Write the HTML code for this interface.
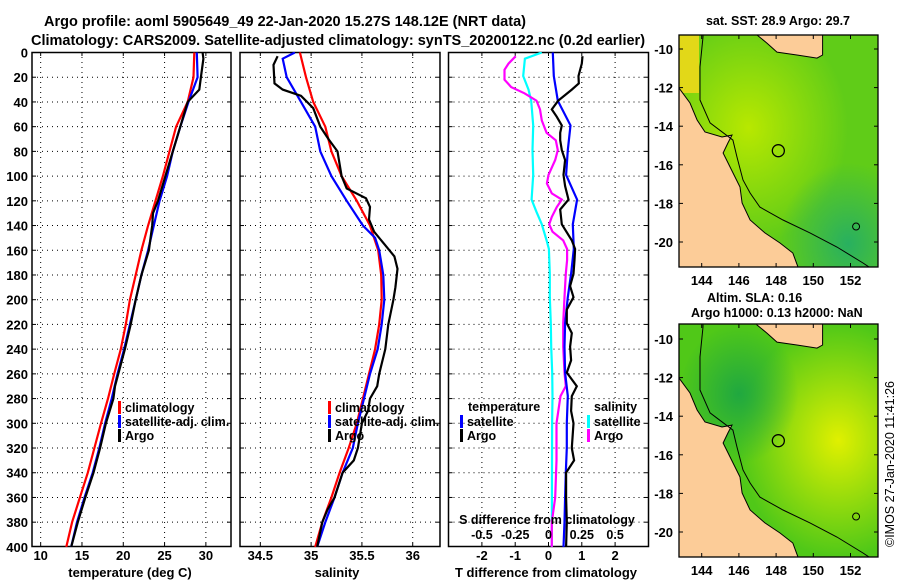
<!DOCTYPE html>
<html><head><meta charset="utf-8"><style>
html,body{margin:0;padding:0;background:#fff;}
svg{display:block;font-family:"Liberation Sans",sans-serif;font-weight:bold;}
</style></head><body>
<svg id="chart" width="900" height="580" viewBox="0 0 900 580" xmlns="http://www.w3.org/2000/svg">
<defs>
<clipPath id="cp1"><rect x="32" y="52" width="199" height="495"/></clipPath>
<clipPath id="cp2"><rect x="240" y="52" width="200" height="495"/></clipPath>
<clipPath id="cp3"><rect x="448.5" y="52" width="200" height="495"/></clipPath>
<clipPath id="cm1"><rect x="679" y="35" width="199" height="232"/></clipPath>
<clipPath id="cm2"><rect x="679" y="324" width="199" height="233"/></clipPath>
<radialGradient id="sstY" cx="0.35" cy="0.4" r="0.5"><stop offset="0" stop-color="#b8e800"/><stop offset="1" stop-color="#b8e800" stop-opacity="0"/></radialGradient>
<radialGradient id="sstT" cx="0.85" cy="0.9" r="0.35"><stop offset="0" stop-color="#28b060"/><stop offset="1" stop-color="#28b060" stop-opacity="0"/></radialGradient>
<radialGradient id="slaY" cx="0.8" cy="0.5" r="0.5"><stop offset="0" stop-color="#e0f000"/><stop offset="1" stop-color="#e0f000" stop-opacity="0"/></radialGradient>
<radialGradient id="slaG" cx="0.3" cy="0.3" r="0.3"><stop offset="0" stop-color="#20a840"/><stop offset="1" stop-color="#20a840" stop-opacity="0"/></radialGradient>
</defs>
<g id="root"></g>
</svg>
<script>
// ---------- data ----------
const tDepth = [0,20,40,60,80,100,120,140,160,180,200,220,240,260,280,300,320,340,360,380,400];
const tClim = [28.6,28.5,27.8,26.4,25.6,24.8,23.9,23.0,22.2,21.5,20.8,20.3,19.7,18.9,18.15,17.3,16.5,15.7,14.75,13.8,13.1];
const tSat = [28.9,29.0,27.9,26.9,26.0,25.3,24.4,23.7,23.0,22.2,21.5,20.8,20.1,19.3,18.6,17.8,17.1,16.3,15.3,14.4,13.7];
const tArgoDepth = [0,5,20,30,40,60,80,100,120,130,140,160,180,200,220,240,260,270,280,300,320,340,360,380,400];
const tArgo = [29.6,29.7,29.4,29.2,27.8,26.9,26.0,25.1,24.2,23.6,23.5,23.1,22.2,21.5,20.9,20.2,19.4,19.0,18.8,17.9,17.2,16.4,15.4,14.5,13.7];

const sClimDepth = [0,20,40,60,80,100,120,140,160,180,200,220,240,260,280,300,320,340,360,380,400];
const sClim = [34.89,34.95,35.02,35.14,35.2,35.3,35.45,35.58,35.66,35.69,35.695,35.67,35.63,35.57,35.51,35.45,35.37,35.28,35.2,35.11,35.04];
const sSatDepth = [0,5,20,40,60,80,100,120,140,150,160,180,200,220,240,260,280,300,320,340,360,380,400];
const sSat = [34.84,34.72,34.76,34.9,35.04,35.09,35.2,35.35,35.51,35.63,35.67,35.71,35.72,35.695,35.655,35.58,35.52,35.46,35.41,35.31,35.23,35.14,35.06];
const sArgoDepth = [3,10,25,30,35,45,60,70,80,100,110,118,125,135,145,155,165,175,190,200,220,240,260,270,280,290,300,320,330,340,360,370,380,400];
const sArgo = [34.67,34.63,34.64,34.72,34.9,35.02,35.09,35.17,35.26,35.3,35.35,35.54,35.58,35.57,35.62,35.72,35.82,35.85,35.83,35.81,35.76,35.73,35.67,35.65,35.58,35.56,35.5,35.46,35.42,35.31,35.23,35.16,35.11,35.06];

const dTSatDepth = [0,19,39,59,79,99,119,139,159,179,198,219,238,259,278,300,320,340,360,380,400];
const dTSat = [0.13,0.16,0.28,0.66,0.58,0.53,0.86,0.73,0.76,0.68,0.58,0.5,0.48,0.5,0.58,0.55,0.55,0.52,0.5,0.48,0.45];
const dTArgoDepth = [3,9,19,25,30,39,46,52,59,65,71,79,87,99,108,119,127,139,152,159,168,179,189,198,208,219,227,238,249,259,270,278,290,300,320,330,340,360,380,400];
const dTArgo = [1.02,1.0,0.9,0.91,0.7,0.29,0.1,0.25,0.4,0.35,0.35,0.4,0.5,0.45,0.5,0.6,0.35,0.4,0.7,0.8,0.78,0.75,0.65,0.75,0.55,0.55,0.7,0.65,0.68,0.55,0.85,0.7,0.68,0.75,0.7,0.77,0.53,0.53,0.55,0.53];
const dSSatDepth = [0,5,19,30,39,59,79,99,119,129,139,152,159,179,198,219,238,259,278,300,400];
const dSSat = [-0.05,-0.177,-0.19,-0.15,-0.13,-0.115,-0.12,-0.115,-0.127,-0.09,-0.05,-0.014,0.003,0.01,0.01,0.017,0.02,0.028,0.03,0.027,0.025];
const dSArgoDepth = [3,9,14,22,28,33,39,46,55,65,71,79,87,99,106,114,119,125,133,139,145,152,159,168,179,198,219,238,259,270,278,300,330,360,380,400];
const dSArgo = [-0.246,-0.30,-0.33,-0.33,-0.28,-0.18,-0.09,-0.064,-0.05,-0.014,0.055,0.07,0.05,0,-0.012,0.025,0.1,0.062,0.025,0.005,0.03,0.11,0.14,0.14,0.13,0.12,0.11,0.11,0.12,0.13,0.09,0.06,0.06,0.05,0.025,0.025];

const depthTicks = [0,20,40,60,80,100,120,140,160,180,200,220,240,260,280,300,320,340,360,380,400];
const tempTicks = [10,15,20,25,30];
const salTicks = [34.5,35,35.5,36];
const dTTicks = [-2,-1,0,1,2];
const dSTicks = [-0.5,-0.25,0,0.25,0.5];
const dSTickLabels = ["-0.5","-0.25","0","0.25","0.5"];
const lonTicks = [144,146,148,150,152];
const latTicks = [-10,-12,-14,-16,-18,-20];

// ---------- helpers ----------
const NS = "http://www.w3.org/2000/svg";
const root = document.getElementById('root');
function mk(tag, attrs, parent){const e=document.createElementNS(NS,tag);for(const k in attrs)e.setAttribute(k,attrs[k]);(parent||root).appendChild(e);return e;}
function txt(x,y,s,size,anchor,parent){const e=mk('text',{x:x,y:y,'font-size':size,'text-anchor':anchor||'middle',fill:'#000'},parent);e.textContent=s;return e;}
const yD = d => 52.5 + d*1.236;
const xT = v => 32 + (v-8.95)*8.26;
const xS = v => 240 + (v-34.3)*101.6;
const xDT = v => 548.5 + v*33.3;
const xDS = v => 548.5 + v*133.2;

function panel(x0,w,ticks,xf,name){
  const g=mk('g',{});
  
  
  depthTicks.forEach(d=>{ if(d>0&&d<400){mk('line',{x1:x0,x2:x0+w,y1:yD(d),y2:yD(d),stroke:'#000','stroke-width':1,'stroke-dasharray':'1,4'},g);
    mk('line',{x1:x0,x2:x0+4,y1:yD(d),y2:yD(d),stroke:'#000'},g);mk('line',{x1:x0+w-4,x2:x0+w,y1:yD(d),y2:yD(d),stroke:'#000'},g);} });
  ticks.forEach(t=>{const x=xf(t);mk('line',{x1:x,x2:x,y1:52,y2:547,stroke:'#000','stroke-width':1,'stroke-dasharray':'1,4'},g);
    mk('line',{x1:x,x2:x,y1:52,y2:56,stroke:'#000'},g);mk('line',{x1:x,x2:x,y1:543,y2:547,stroke:'#000'},g);});
  mk('rect',{x:x0,y:52.5,width:w,height:494,fill:'none',stroke:'#000','stroke-width':1.5},g);
  return g;
}
function series(xs,ds,xf,color,clip,name){
  const pts=xs.map((v,i)=>xf(v).toFixed(1)+','+yD(ds[i]).toFixed(1)).join(' ');
  const p=mk('polyline',{points:pts,fill:'none',stroke:color,'stroke-width':2.2,'clip-path':'url(#'+clip+')'});
  
  
}
function legendItem(x,y,color,label,parent){
  mk('rect',{x:x,y:y-11,width:3,height:13,fill:color},parent);
  txt(x+7,y,label,12.5,'start',parent);
}

// titles
const t1=txt(285,26,'Argo profile: aoml 5905649_49 22-Jan-2020 15.27S 148.12E (NRT data)',14.5);


const t2=txt(338,45,'Climatology: CARS2009. Satellite-adjusted climatology: synTS_20200122.nc (0.2d earlier)',14.5);



// panel 1 temperature
panel(32,199,tempTicks,xT,'temperature-panel');
depthTicks.forEach(d=>{const e=txt(28,yD(d)+5,String(d),13,'end');});
tempTicks.forEach(t=>{const e=txt(xT(t),560,String(t),13);});
const xl1=txt(130,577,'temperature (deg C)',13);
series(tClim,tDepth,xT,'#ff0000','cp1','temp-climatology-line');
series(tSat,tDepth,xT,'#0000ff','cp1','temp-satellite-line');
series(tArgo,tArgoDepth,xT,'#000000','cp1','temp-argo-line');
const lg1=mk('g',{});
legendItem(118,412,'#ff0000','climatology',lg1);legendItem(118,426,'#0000ff','satellite-adj. clim.',lg1);legendItem(118,440,'#000000','Argo',lg1);

// panel 2 salinity
panel(240,200,salTicks,xS,'salinity-panel');
salTicks.forEach(t=>{const e=txt(xS(t),560,String(t),13);});
const xl2=txt(337,577,'salinity',13);
series(sClim,sClimDepth,xS,'#ff0000','cp2','sal-climatology-line');
series(sSat,sSatDepth,xS,'#0000ff','cp2','sal-satellite-line');
series(sArgo,sArgoDepth,xS,'#000000','cp2','sal-argo-line');
const lg2=mk('g',{});
legendItem(328,412,'#ff0000','climatology',lg2);legendItem(328,426,'#0000ff','satellite-adj. clim.',lg2);legendItem(328,440,'#000000','Argo',lg2);

// panel 3 differences
panel(448.5,200,dTTicks,xDT,'difference-panel');
dTTicks.forEach(t=>{const e=txt(xDT(t),560,String(t),13);});
const xl3=txt(546,577,'T difference from climatology',13);
series(dSSat,dSSatDepth,xDS,'#00ffff','cp3','ds-satellite-line');
series(dSArgo,dSArgoDepth,xDS,'#ff00ff','cp3','ds-argo-line');
series(dTSat,dTSatDepth,xDT,'#0000ff','cp3','dt-satellite-line');
series(dTArgo,dTArgoDepth,xDT,'#000000','cp3','dt-argo-line');
dSTicks.forEach((t,i)=>{const e=txt(xDS(t),539,dSTickLabels[i],12.5);});
const sl=txt(547,524,'S difference from climatology',12.5);
const lg3=mk('g',{});
txt(468,411,'temperature',12.5,'start',lg3);
legendItem(460,426,'#0000ff','satellite',lg3);legendItem(460,440,'#000000','Argo',lg3);
txt(594,411,'salinity',12.5,'start',lg3);
legendItem(587,426,'#00ffff','satellite',lg3);legendItem(587,440,'#ff00ff','Argo',lg3);

// ---------- maps ----------
const coast = [[142,-12.02],[142.78,-12.02],[143.37,-12.8],[143.75,-13.68],[144.18,-14.3],[145.09,-14.56],[145.63,-14.46],[145.41,-14.87],[145.15,-15.39],[145.52,-16.11],[146.06,-17.15],[146.17,-17.98],[146.6,-18.86],[147.4,-19.53],[148.21,-20.05],[148.9,-20.57],[149.18,-21.3],[149.5,-22],[142,-22]];
const guinea = [[146.97,-9.0],[146.97,-9.27],[147.5,-9.69],[148.05,-10.16],[149.12,-10.31],[150.2,-10.47],[150.5,-10.31],[150.5,-9.0]];
const isobath = [[144.07,-9.0],[144.07,-9.38],[143.91,-10.93],[143.91,-12.64],[144.45,-13.83],[145.68,-14.72],[145.9,-15.6],[146.22,-16.79],[146.6,-17.46],[147.13,-18.19],[148.37,-18.86],[149.82,-19.53],[151.27,-20.26],[152.67,-21.09],[153,-21.3]];
const argoPos = [148.12,-15.27];

function drawMap(top,h,lat10y,clip,name,kind){
  const g=mk('g',{});
  const px = lon => 701.7 + (lon-144)*18.6;
  const py = lat => lat10y - (lat+10)*19.3;
  const cg=mk('g',{'clip-path':'url(#'+clip+')'},g);
  if(kind==='sst'){
    mk('rect',{x:679,y:top,width:199,height:h,fill:'#60cc18'},cg);
    mk('rect',{x:679,y:top,width:199,height:h,fill:'url(#sstY)'},cg);
    mk('rect',{x:679,y:top,width:199,height:h,fill:'url(#sstT)'},cg);
    mk('rect',{x:679,y:top,width:20,height:58,fill:'#e2d818'},cg);
  } else {
    mk('rect',{x:679,y:top,width:199,height:h,fill:'#50c818'},cg);
    mk('rect',{x:679,y:top,width:199,height:h,fill:'url(#slaY)'},cg);
    mk('rect',{x:679,y:top,width:199,height:h,fill:'url(#slaG)'},cg);
  }
  const toPts = arr => arr.map(p=>px(p[0]).toFixed(1)+','+py(p[1]).toFixed(1)).join(' ');
  const land=mk('polygon',{points:toPts(coast),fill:'#fccc98',stroke:'#000','stroke-width':1},cg);
  
  mk('polygon',{points:toPts(guinea),fill:'#fccc98',stroke:'#000','stroke-width':1},cg);
  mk('polyline',{points:toPts(isobath),fill:'none',stroke:'#000','stroke-width':1},cg);
  const c=mk('circle',{cx:px(argoPos[0]),cy:py(argoPos[1]),r:6,fill:'none',stroke:'#000','stroke-width':1.3},cg);
  
  mk('circle',{cx:px(152.3),cy:py(-19.2),r:3.5,fill:'none',stroke:'#000','stroke-width':1},cg);
  mk('rect',{x:679,y:top,width:199,height:h,fill:'none',stroke:'#000','stroke-width':1.3},g);
  latTicks.forEach(l=>{const y=py(l);mk('line',{x1:679,x2:683,y1:y,y2:y,stroke:'#000'},g);mk('line',{x1:874,x2:878,y1:y,y2:y,stroke:'#000'},g);
    txt(673,y+5,String(l),13,'end',g);});
  lonTicks.forEach(l=>{const x=px(l);mk('line',{x1:x,x2:x,y1:top,y2:top+4,stroke:'#000'},g);mk('line',{x1:x,x2:x,y1:top+h-4,y2:top+h,stroke:'#000'},g);
    txt(x,top+h+18,String(l),13,'middle',g);});
  return g;
}
drawMap(35,232,49,'cm1','sst-map','sst');
drawMap(324,233,339,'cm2','sla-map','sla');
const mt1=txt(778,25,'sat. SST: 28.9 Argo: 29.7',12.5);
const mt2=txt(707,302,'Altim. SLA: 0.16',12.5,'start');
const mt3=txt(691,317,'Argo h1000: 0.13 h2000: NaN',12.5,'start');
const cr=mk('text',{x:0,y:0,'font-size':12.5,'font-weight':'normal','text-anchor':'middle',transform:'translate(894,464) rotate(-90)',fill:'#000'});
cr.textContent='©IMOS 27-Jan-2020 11:41:26';


</script>
</body></html>
